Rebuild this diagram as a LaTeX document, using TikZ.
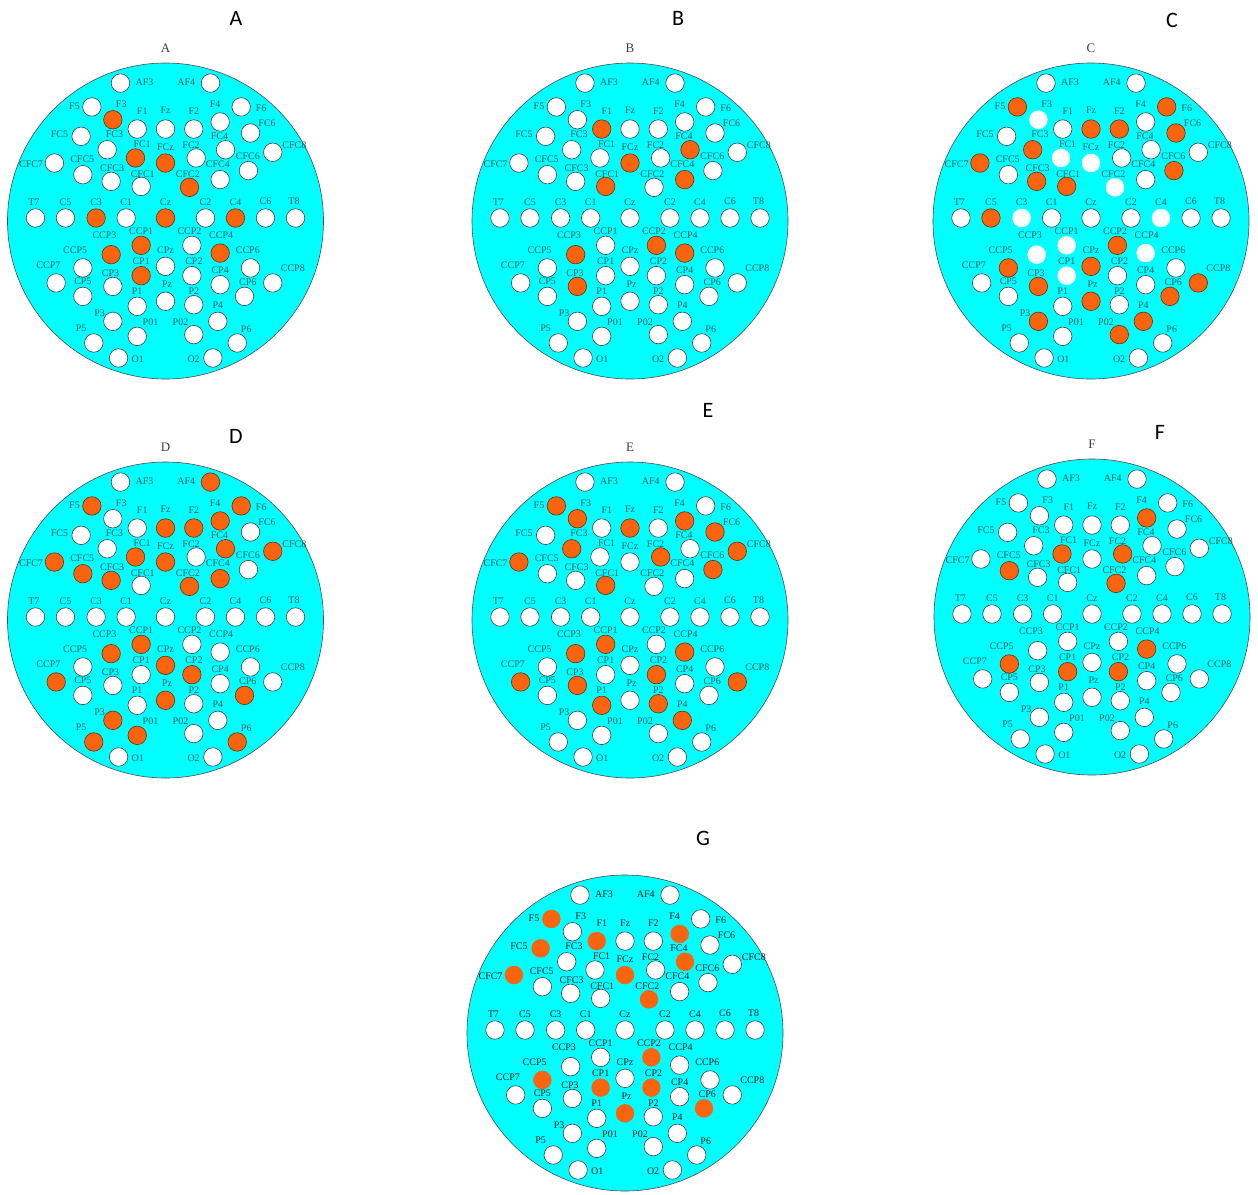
\documentclass[tikz,border=0pt]{standalone}
\usepackage{fontspec}
\setmainfont{Liberation Serif}
\newfontfamily\tagfont{Carlito}
\usetikzlibrary{positioning}
\definecolor{capcyan}{RGB}{0,255,255}
\definecolor{hotorange}{RGB}{250,100,15}
\definecolor{labteal}{RGB}{25,90,90}

% sites: name/x/y/label dx/label dy, head radius = 10
\newcommand\eegsites{AF3/-2.85/8.73/1.52/.04, AF4/2.85/8.73/-1.54/.04,
F5/-4.66/7.22/-1.1/.06, F3/-3.33/6.41/.53/.95, F1/-1.79/5.82/.32/1.12, Fz/0/5.82/0/1.16,
F2/1.79/5.82/0/1.16, F4/3.46/6.27/-.32/1.1, F6/4.79/7.22/1.27/-.06,
FC5/-5.34/5.36/-1.37/.15, FC3/-3.69/4.51/.46/.99, FC1/-1.9/3.99/.42/.89, FCz/0/3.67/0/.99,
FC2/1.94/3.99/-.32/.78, FC4/3.8/4.51/-.38/.84, FC6/5.38/5.57/1.05/.63,
CFC7/-7.03/3.67/-1.48/-.1, CFC5/-5.23/2.93/-.04/.95, CFC3/-3.44/2.51/.06/.84, CFC1/-1.54/2.19/.1/.78,
CFC2/1.52/2.13/-.1/.84, CFC4/3.46/2.62/-.15/.99, CFC6/5.25/3.19/-.04/.91, CFC8/6.79/4.35/1.37/.42,
T7/-8.23/.19/-.1/1.01, C5/-6.33/.19/0/1.01, C3/-4.39/.19/0/1.01, C1/-2.49/.19/0/1.01, Cz/0/.19/0/1.01,
C2/2.53/.19/0/1.01, C4/4.43/.19/0/1.01, C6/6.33/.19/0/1.05, T8/8.23/.19/-.1/1.05,
CCP3/-3.44/-2.13/-.42/1.2, CCP1/-1.54/-1.54/0/.89, CCP2/1.67/-1.54/-.15/.89, CCP4/3.46/-2.03/.06/1.1,
CCP5/-5.23/-2.97/-.49/1.12, CPz/0/-2.87/0/1.01, CCP6/5.38/-2.97/-.17/1.12,
CCP7/-6.92/-3.92/-.49/1.12, CP1/-1.54/-3.46/0/.91, CP2/1.67/-3.46/.13/.91, CCP8/6.79/-3.92/1.27/.91,
CP5/-5.23/-4.77/0/.95, CP3/-3.33/-4.14/-.15/.84, CP4/3.46/-4.03/0/.89, CP6/5/-4.77/.21/.91,
P1/-1.79/-5.4/0/.95, Pz/0/-5.08/.1/1.05, P2/1.79/-5.3/0/.84, P3/-3.33/-6.35/-.84/.49, P4/3.31/-6.35/0/.99,
P5/-4.54/-7.72/-.8/.91, P01/-1.79/-7.3/.84/.91, P02/1.79/-7.19/-.84/.8, P6/4.54/-7.72/.57/.89,
O1/-2.97/-8.67/1.22/-.1, O2/3/-8.67/-1.22/-.1}

\makeatletter
% #1 site, #2 orange sites, #3 blank sites
\newcommand\sitelookfor[3]{\tikzset{sitelook/.style={elec}}%
\edef\tmp{\noexpand\in@{,#1,}{,#2,}}\tmp\ifin@\tikzset{sitelook/.style={hot}}\fi
\edef\tmp{\noexpand\in@{,#1,}{,#3,}}\tmp\ifin@\tikzset{sitelook/.style={ghost}}\fi}
\makeatother

% #1 name, #2 centre, #3 orange sites, #4 blank sites, #5 extra options
\newcommand\eeghead[5]{%
\begin{scope}[shift={#2},x=15.8pt,y=15.8pt,#5]
\node[headdisc] (#1) at (0,0) {};
\foreach \nm/\ex/\ey/\lx/\ly in \eegsites
  \node[etxt] (#1-\nm-lab) at (\ex+\lx,\ey+\ly) {\nm};
\foreach \nm/\ex/\ey/\lx/\ly in \eegsites{
  \sitelookfor{\nm}{#3}{#4}
  \node[sitelook] (#1-\nm) at (\ex,\ey) {};}
\end{scope}}

\begin{document}
\begin{tikzpicture}[x=1pt,y=-1pt,
headdisc/.style={circle,draw=black!70,fill=capcyan,line width=.6pt,minimum size=316pt,inner sep=0pt},
elec/.style={circle,draw=black!75,fill=white,line width=.6pt,minimum size=18.5pt,inner sep=0pt},
hot/.style={elec,fill=hotorange,draw=black!55!hotorange},
ghost/.style={elec,draw=none},
etxt/.style={inner sep=0pt,text=labteal,font=\fontsize{10}{11}\selectfont},
subtitle/.style={text=black!75,font=\fontsize{13}{14}\selectfont},
bigtag/.style={font=\tagfont\fontsize{22}{24}\selectfont}]
\useasboundingbox (0,0) rectangle (1258,1194);

\eeghead{A}{(165.5,221)}{F3,FC1,FCz,CFC2,C3,Cz,C4,CCP1,CCP3,CCP4,CP1}{}{}
\eeghead{B}{(630,221)}{F1,FCz,FC4,CFC1,CFC4,CCP2,CCP3,CCP4,CP3}{}{}
\eeghead{C}{(1091,221)}{F5,F6,Fz,F2,FC3,FC6,CFC7,CFC3,CFC1,CFC6,C5,CCP2,CCP5,CPz,CCP8,CP3,CP6,Pz,P3,P4,P02}{F3,FC1,FCz,CFC2,C3,C4,CCP1,CCP3,CCP4,CP1}{}
\eeghead{D}{(165.5,620)}{AF4,F5,F6,Fz,F2,F4,FC1,FCz,FC4,CFC7,CFC5,CFC3,CFC2,CFC4,CFC8,CCP1,CCP3,CPz,CP2,CCP7,CP6,Pz,P3,P01,P5,P6}{}{}
\eeghead{E}{(630,620)}{F5,F3,Fz,F4,FC3,FC2,FC6,CFC7,CFC1,CFC6,CFC8,CCP1,CCP3,CCP4,CCP7,CCP8,CP2,CP3,P1,P2,P4}{}{}
\eeghead{F}{(1092,617)}{F4,FC1,FC2,CFC5,CFC2,CCP4,CCP5,CP1,CP2}{}{}
\eeghead{G}{(625,1033)}{F5,F1,F4,FC5,FCz,FC4,CFC7,CFC2,CCP2,CCP5,CP1,CP2,Pz,CP6}{}{etxt/.append style={text=black!90},hot/.append style={draw=none}}

\node[subtitle,above=7pt of A] (A-title) {A};
\node[subtitle,above=7pt of B] (B-title) {B};
\node[subtitle,above=7pt of C] (C-title) {C};
\node[subtitle,above=7pt of D] (D-title) {D};
\node[subtitle,above=7pt of E] (E-title) {E};
\node[subtitle,above=7pt of F] (F-title) {F};

\node[bigtag] (A-tag) at (236,18) {A};
\node[bigtag] (B-tag) at (678,18) {B};
\node[bigtag] (C-tag) at (1172,20) {C};
\node[bigtag] (D-tag) at (236,436) {D};
\node[bigtag] (E-tag) at (708,410) {E};
\node[bigtag] (F-tag) at (1160,432) {F};
\node[bigtag] (G-tag) at (703,838) {G};
\end{tikzpicture}
\end{document}
